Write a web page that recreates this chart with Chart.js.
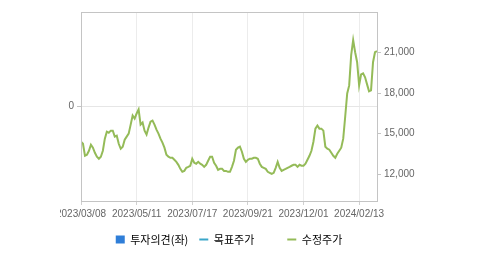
<!DOCTYPE html>
<html>
<head>
<meta charset="utf-8">
<script src="https://cdn.jsdelivr.net/npm/chart.js@4.4.1/dist/chart.umd.min.js"></script>
<style>
    html, body { margin: 0; padding: 0; background: #fff; }
    .clip { position: absolute; left: 60px; top: 0; width: 419px; height: 255px; overflow: hidden; }
    #chart { position: absolute; left: -60px; top: 0; }
</style>
</head>
<body>
<div class="clip"><canvas id="chart" width="479" height="255"></canvas></div>
<script>
    const tickDates = ['2023/03/08', '2023/05/11', '2023/07/17', '2023/09/21', '2023/12/01', '2024/02/13'];
    const tickIndex = [0, 28, 56, 84, 112, 140];
    const priceTicks = [12000, 15000, 18000, 21000];

    // 수정주가
    const prices = [
        14390, 14240, 13350, 13430, 13720, 14170, 13950, 13570, 13280, 13130,
        13280, 13720, 14620, 15140, 15060, 15210, 15210, 14770, 14840, 14240,
        13870, 14020, 14540, 14770, 14990, 15660, 16330, 16110, 16480, 16780,
        15660, 15810, 15210, 14920, 15440, 15880, 15960, 15660, 15290, 14990,
        14620, 14320, 13950, 13430, 13280, 13200, 13200, 13050, 12900, 12680,
        12380, 12160, 12230, 12460, 12530, 12610, 13130, 12830, 12760, 12900,
        12760, 12680, 12530, 12680, 12980, 13280, 13280, 12830, 12610, 12310,
        12380, 12380, 12230, 12230, 12160, 12160, 12530, 12980, 13800, 13950,
        14020, 13650, 13130, 12900, 13050, 13130, 13130, 13200, 13200, 13130,
        12760, 12530, 12460, 12380, 12160, 12090, 12010, 12090, 12460, 12900,
        12460, 12230, 12310, 12380, 12460, 12530, 12610, 12680, 12680, 12530,
        12680, 12610, 12610, 12760, 13050, 13350, 13720, 14390, 15360, 15590,
        15360, 15360, 15210, 14020, 13870, 13800, 13570, 13350, 13200, 13500,
        13720, 13950, 14620, 16260, 17970, 18560, 20800, 21920, 21020, 20280,
        18560, 19380, 19460, 19160, 18640, 18120, 18190, 20280, 21020, 21100
    ];
    const opinion = [];
    const target = [];

    const frame = {
        id: 'frame',
        afterDraw (chart) {
            const a = chart.chartArea;
            const ctx = chart.ctx;
            ctx.save();
            ctx.strokeStyle = '#c4c4c4';
            ctx.lineWidth = 1;
            ctx.strokeRect(Math.round(a.left) + 0.5, Math.round(a.top) + 0.5, Math.round(a.right - a.left), Math.round(a.bottom - a.top));
            ctx.restore();
        }
    };

    const tickFont = { family: "'Liberation Sans', Arial, sans-serif", size: 10 };

    new Chart(document.getElementById('chart'), {
        data: {
            datasets: [{
                type: 'bar',
                label: '투자의견(좌)',
                data: opinion,
                backgroundColor: '#2f7ed8',
                yAxisID: 'y'
            }, {
                type: 'line',
                label: '목표주가',
                data: target,
                borderColor: '#3aa6c9',
                yAxisID: 'y2'
            }, {
                type: 'line',
                label: '수정주가',
                data: prices.map((v, i) => ({ x: i, y: v })),
                borderColor: '#94bb58',
                borderWidth: 2,
                pointRadius: 0,
                tension: 0,
                yAxisID: 'y2'
            }]
        },
        options: {
            responsive: false,
            animation: false,
            layout: { padding: { left: 66, right: 57, top: 12, bottom: 0 } },
            scales: {
                x: {
                    type: 'linear',
                    offset: false,
                    min: 0,
                    max: prices.length - 1,
                    afterBuildTicks: s => { s.ticks = tickIndex.map(v => ({ value: v })); },
                    afterFit: s => { s.height = 22; },
                    ticks: {
                        callback: v => tickDates[tickIndex.indexOf(v)],
                        maxRotation: 0,
                        autoSkip: false,
                        color: '#666',
                        font: tickFont,
                        padding: 3
                    },
                    grid: { color: '#ececec', offset: false, tickLength: 4, tickColor: '#d0d0d0' },
                    border: { color: '#c4c4c4' }
                },
                y: {
                    position: 'left',
                    min: -1,
                    max: 1,
                    afterBuildTicks: s => { s.ticks = [{ value: 0 }]; },
                    afterFit: s => { s.width = 15; },
                    ticks: { color: '#666', font: tickFont, padding: 3 },
                    grid: { color: '#e6e6e6', tickLength: 4, tickColor: '#c4c4c4' },
                    border: { color: '#c4c4c4' }
                },
                y2: {
                    position: 'right',
                    min: 10000,
                    max: 24000,
                    afterBuildTicks: s => { s.ticks = priceTicks.map(v => ({ value: v })); },
                    afterFit: s => { s.width = 45; },
                    ticks: {
                        callback: v => v.toLocaleString('en-US'),
                        color: '#666',
                        font: tickFont,
                        padding: 3
                    },
                    grid: { drawOnChartArea: false, tickLength: 4, tickColor: '#c4c4c4' },
                    border: { color: '#c4c4c4' }
                }
            },
            plugins: {
                tooltip: { enabled: false },
                legend: {
                    position: 'bottom',
                    fullSize: false,
                    labels: {
                        color: '#333',
                        font: { family: "'Noto Sans CJK KR', sans-serif", size: 11 },
                        usePointStyle: true,
                        boxWidth: 9,
                        boxHeight: 8,
                        pointStyleWidth: 9,
                        padding: 11,
                        generateLabels: () => [
                            { text: '투자의견(좌)', fillStyle: '#2f7ed8', strokeStyle: '#2f7ed8', lineWidth: 0, pointStyle: 'rect', datasetIndex: 0 },
                            { text: '목표주가\u2003\u2003', fillStyle: '#3aa6c9', strokeStyle: '#3aa6c9', lineWidth: 2, pointStyle: 'line', datasetIndex: 1 },
                            { text: '수정주가', fillStyle: '#94bb58', strokeStyle: '#94bb58', lineWidth: 2, pointStyle: 'line', datasetIndex: 2 }
                        ]
                    }
                }
            }
        },
        plugins: [frame]
    });
</script>
</body>
</html>
